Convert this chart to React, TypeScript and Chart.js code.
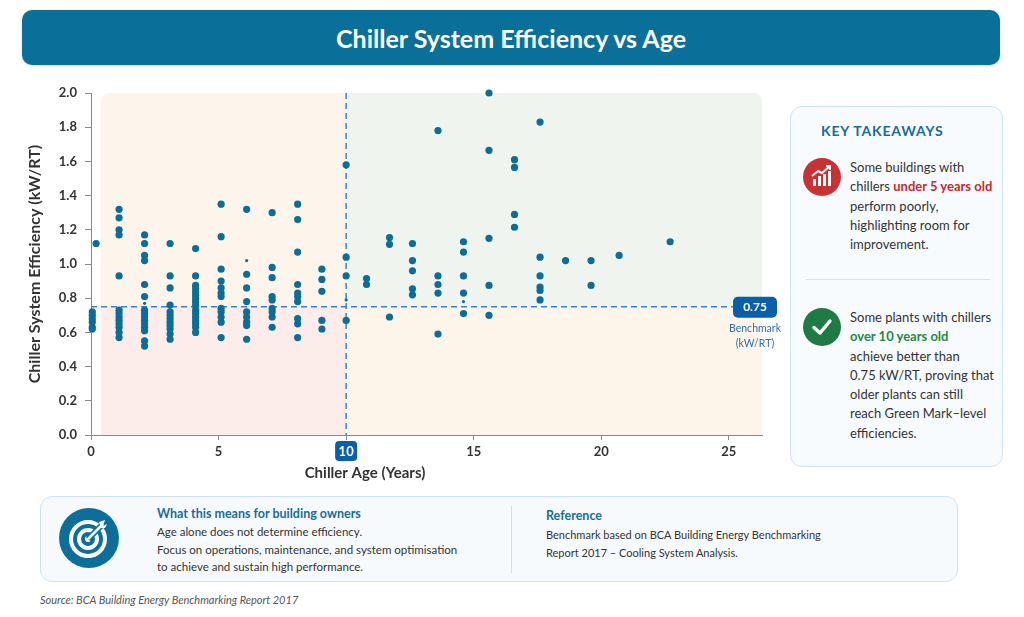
import { useEffect, useRef } from 'react';
import { Chart, registerables, Plugin } from 'chart.js';

Chart.register(...registerables);

const FONT = 'Lato, "Open Sans", "DejaVu Sans", sans-serif';

// chiller age (years) of each column of plants, and kW/RT of the plants in it
const ageGroups = [0.05, 0.2, 1.1, 2.1, 3.1, 4.1, 5.1, 6.1, 7.1, 8.1, 9.05, 10.0, 10.8, 11.7, 12.6, 13.6, 14.6, 15.6, 16.6, 17.6, 18.6, 19.6, 20.7, 22.7];
const efficiencyByAge = [
  [0.72, 0.7, 0.68, 0.66, 0.63, 0.62],
  [1.12],
  [1.32, 1.27, 1.2, 1.17, 0.93, 0.73, 0.71, 0.69, 0.67, 0.65, 0.63, 0.6, 0.57],
  [1.17, 1.12, 1.05, 1.02, 0.88, 0.81, 0.73, 0.71, 0.69, 0.67, 0.65, 0.63, 0.61, 0.55, 0.52],
  [1.12, 0.93, 0.86, 0.76, 0.72, 0.7, 0.68, 0.66, 0.64, 0.62, 0.59, 0.56],
  [1.09, 0.93, 0.875, 0.856, 0.836, 0.817, 0.797, 0.778, 0.758, 0.73, 0.71, 0.69, 0.67, 0.65, 0.63, 0.6],
  [1.35, 1.16, 0.97, 0.9, 0.86, 0.83, 0.81, 0.74, 0.72, 0.69, 0.66, 0.57],
  [1.32, 0.94, 0.86, 0.78, 0.72, 0.69, 0.66, 0.64, 0.56],
  [1.3, 0.98, 0.92, 0.81, 0.79, 0.74, 0.72, 0.69, 0.63],
  [1.35, 1.26, 1.07, 0.88, 0.83, 0.81, 0.78, 0.68, 0.65, 0.57],
  [0.97, 0.91, 0.84, 0.67, 0.62],
  [1.58, 1.04, 0.93, 0.67],
  [0.915, 0.88],
  [1.155, 1.115, 0.69],
  [1.12, 1.02, 0.96, 0.855, 0.82],
  [1.78, 0.93, 0.88, 0.83, 0.59],
  [1.13, 1.07, 0.93, 0.83, 0.71],
  [2.0, 1.665, 1.15, 0.875, 0.7],
  [1.61, 1.565, 1.29, 1.215],
  [1.83, 1.04, 0.93, 0.865, 0.845, 0.79],
  [1.02],
  [1.02, 0.875],
  [1.05],
  [1.13],
];
// the few tiny dots
const minorAges = [2.1, 6.1, 10.0, 14.6];
const minorEfficiency = [0.77, 1.02, 0.79, 0.78];

const xTicks = [0, 5, 10, 15, 20, 25];
const benchmark = 0.75;
const ageSplit = 10;

const decor: Plugin<'scatter'> = {
  id: 'decor',
  beforeDraw(chart) {
    const { ctx, chartArea: a, scales } = chart;
    const xm = scales.x.getPixelForValue(ageSplit);
    const ym = scales.y.getPixelForValue(benchmark);
    const left = a.left + 10;
    ctx.save();
    ctx.beginPath();
    ctx.roundRect(left, a.top, a.right - left, a.bottom - a.top, [8, 8, 0, 0]);
    ctx.clip();
    ctx.fillStyle = '#fdf4ec';
    ctx.fillRect(left, a.top, xm - left, ym - a.top);
    ctx.fillStyle = '#fcedea';
    ctx.fillRect(left, ym, xm - left, a.bottom - ym);
    ctx.fillStyle = '#eff4ee';
    ctx.fillRect(xm, a.top, a.right - xm, ym - a.top);
    ctx.fillStyle = '#fdf5e9';
    ctx.fillRect(xm, ym, a.right - xm, a.bottom - ym);
    ctx.restore();

    // box behind the "10" tick
    ctx.save();
    ctx.fillStyle = '#0b5ea8';
    ctx.beginPath();
    ctx.roundRect(xm - 11, a.bottom + 6, 22, 20, 4);
    ctx.fill();
    ctx.restore();
  },
  beforeDatasetsDraw(chart) {
    const { ctx, chartArea: a, scales } = chart;
    const xm = scales.x.getPixelForValue(ageSplit);
    const ym = scales.y.getPixelForValue(benchmark);
    ctx.save();
    ctx.strokeStyle = '#3b7fd0';
    ctx.lineWidth = 1.5;
    ctx.setLineDash([6, 4]);
    ctx.beginPath();
    ctx.moveTo(xm, a.top);
    ctx.lineTo(xm, a.bottom);
    ctx.moveTo(a.left, ym);
    ctx.lineTo(a.right - 29, ym);
    ctx.stroke();
    ctx.restore();
  },
  afterDraw(chart) {
    const { ctx, chartArea: a, scales } = chart;
    const ym = scales.y.getPixelForValue(benchmark);
    const bx = a.right - 29;
    ctx.save();
    ctx.fillStyle = '#0b5ea8';
    ctx.beginPath();
    ctx.roundRect(bx, ym - 10, 44, 21, 5);
    ctx.fill();
    ctx.fillStyle = '#ffffff';
    ctx.font = `bold 12px ${FONT}`;
    ctx.textAlign = 'center';
    ctx.textBaseline = 'middle';
    ctx.fillText(benchmark.toFixed(2), bx + 22, ym + 0.5);
    ctx.fillStyle = '#2f6db5';
    ctx.font = `10.5px ${FONT}`;
    ctx.fillText('Benchmark', bx + 22, ym + 22);
    ctx.fillText('(kW/RT)', bx + 22, ym + 37);

    // x axis title, sits left of centre in the original
    ctx.fillStyle = '#333333';
    ctx.font = `bold 15px ${FONT}`;
    ctx.fillText('Chiller Age (Years)', 365, a.bottom + 38);
    ctx.restore();
  },
};

function EfficiencyChart() {
  const chartRef = useRef<HTMLCanvasElement>(null);
  const chartInstance = useRef<Chart | null>(null);

  useEffect(() => {
    if (!chartRef.current) return;
    if (chartInstance.current) chartInstance.current.destroy();
    const ctx = chartRef.current.getContext('2d');
    if (!ctx) return;

    const points = ageGroups.flatMap((age, i) => efficiencyByAge[i].map(v => ({ x: age, y: v })));
    const minorPoints = minorAges.map((age, i) => ({ x: age, y: minorEfficiency[i] }));

    chartInstance.current = new Chart(ctx, {
      type: 'scatter',
      data: {
        datasets: [
          {
            label: 'Plants',
            data: points,
            backgroundColor: '#0b6d98',
            borderWidth: 0,
            pointRadius: 3.6,
            clip: false,
          },
          {
            label: 'Minor',
            data: minorPoints,
            backgroundColor: '#0b6d98',
            borderWidth: 0,
            pointRadius: 1.6,
            clip: false,
          },
        ],
      },
      options: {
        animation: false,
        responsive: true,
        maintainAspectRatio: false,
        layout: { padding: { left: 0, top: 23, right: 28, bottom: 0 } },
        scales: {
          x: {
            type: 'linear',
            min: 0,
            max: 26.3,
            afterBuildTicks: s => {
              s.ticks = xTicks.map(v => ({ value: v }));
            },
            afterFit: s => {
              s.height = 55;
            },
            grid: { drawOnChartArea: false, drawTicks: true, tickLength: 5, color: '#8a8a8a' },
            border: { color: '#8a8a8a', width: 1 },
            ticks: {
              color: c => (c.tick && c.tick.value === ageSplit ? '#ffffff' : '#333333'),
              font: { family: FONT, size: 13, weight: 'bold' },
              padding: 4,
              maxRotation: 0,
            },
          },
          y: {
            min: 0,
            max: 2,
            afterFit: s => {
              s.width = 91;
            },
            grid: { drawOnChartArea: false, drawTicks: true, tickLength: 6, color: '#8a8a8a' },
            border: { color: '#8a8a8a', width: 1 },
            ticks: {
              stepSize: 0.2,
              color: '#333333',
              font: { family: FONT, size: 13, weight: 'bold' },
              padding: 8,
              callback: v => Number(v).toFixed(1),
            },
            title: {
              display: true,
              text: 'Chiller System Efficiency (kW/RT)',
              color: '#333333',
              font: { family: FONT, size: 16, weight: 'bold' },
              padding: { top: 25, bottom: 0 },
            },
          },
        },
        plugins: {
          legend: { display: false },
          tooltip: { enabled: false },
        },
      },
      plugins: [decor],
    });

    return () => {
      if (chartInstance.current) {
        chartInstance.current.destroy();
        chartInstance.current = null;
      }
    };
  }, []);

  return (
    <div style={{ position: 'absolute', left: 0, top: 70, width: 790, height: 420 }}>
      <canvas ref={chartRef}></canvas>
    </div>
  );
}

function TrendIcon() {
  return (
    <svg width="38" height="38" viewBox="0 0 38 38">
      <circle cx="19" cy="19" r="19" fill="#c93232" />
      <rect x="10" y="21" width="3" height="7" fill="#fff" />
      <rect x="15" y="18" width="3" height="10" fill="#fff" />
      <rect x="20" y="16" width="3" height="12" fill="#fff" />
      <rect x="25" y="13" width="3" height="15" fill="#fff" />
      <polyline points="9,18 15,13 19,15 27,8" fill="none" stroke="#fff" strokeWidth="2" />
      <polyline points="23,8 27,8 27,12" fill="none" stroke="#fff" strokeWidth="2" />
    </svg>
  );
}

function CheckIcon() {
  return (
    <svg width="38" height="38" viewBox="0 0 38 38">
      <circle cx="19" cy="19" r="19" fill="#1f7a45" />
      <polyline points="11,19.5 17,25 27,13" fill="none" stroke="#fff" strokeWidth="3.5" strokeLinecap="round" strokeLinejoin="round" />
    </svg>
  );
}

function TargetIcon() {
  return (
    <svg width="60" height="60" viewBox="0 0 60 60">
      <circle cx="30" cy="30" r="30" fill="#0c6e99" />
      <circle cx="29" cy="31" r="17" fill="none" stroke="#fff" strokeWidth="4" />
      <circle cx="29" cy="31" r="9" fill="none" stroke="#fff" strokeWidth="4" />
      <circle cx="29" cy="31" r="3" fill="#fff" />
      <line x1="29" y1="31" x2="44" y2="16" stroke="#0c6e99" strokeWidth="6" />
      <line x1="29" y1="31" x2="44" y2="16" stroke="#fff" strokeWidth="2.5" />
      <polygon points="40,14 46,12 44,18 48,16 46,20 42,20" fill="#fff" />
    </svg>
  );
}

const body: React.CSSProperties = { color: '#333', fontSize: 13, lineHeight: '19.3px', whiteSpace: 'nowrap' };
const small: React.CSSProperties = { color: '#333', fontSize: 11.5, lineHeight: '17.5px', whiteSpace: 'nowrap' };

export default function App() {
  return (
    <div style={{ position: 'absolute', left: 0, top: 0, width: 1024, height: 617, background: '#fff', fontFamily: FONT, overflow: 'hidden' }}>
      <div
        style={{
          position: 'absolute', left: 22, top: 10, width: 978, height: 55, borderRadius: 10,
          background: '#0a6f99', color: '#fff', fontSize: 25, fontWeight: 700,
          display: 'flex', alignItems: 'center', justifyContent: 'center',
          boxShadow: '0 1px 3px rgba(0,0,0,0.15)',
        }}
      >
        Chiller System Efficiency vs Age
      </div>

      <EfficiencyChart />

      <div
        style={{
          position: 'absolute', left: 790, top: 106, width: 213, height: 361, boxSizing: 'border-box',
          border: '1px solid #cfe2f0', borderRadius: 12, background: '#f8fbfe',
        }}
      >
        <div style={{ position: 'absolute', left: 30, top: 15, color: '#1a6c96', fontSize: 14, fontWeight: 700, letterSpacing: 0.8 }}>
          KEY TAKEAWAYS
        </div>
        <div style={{ position: 'absolute', left: 12, top: 51 }}>
          <TrendIcon />
        </div>
        <div style={{ ...body, position: 'absolute', left: 59, top: 51 }}>
          Some buildings with
          <br />
          chillers <b style={{ color: '#c92a2a' }}>under 5 years old</b>
          <br />
          perform poorly,
          <br />
          highlighting room for
          <br />
          improvement.
        </div>
        <div style={{ position: 'absolute', left: 14, top: 172, width: 185, height: 1, background: '#d3e3ee' }} />
        <div style={{ position: 'absolute', left: 12, top: 201 }}>
          <CheckIcon />
        </div>
        <div style={{ ...body, position: 'absolute', left: 59, top: 201 }}>
          Some plants with chillers
          <br />
          <b style={{ color: '#1e8a45' }}>over 10 years old</b>
          <br />
          achieve better than
          <br />
          0.75 kW/RT, proving that
          <br />
          older plants can still
          <br />
          reach Green Mark–level
          <br />
          efficiencies.
        </div>
      </div>

      <div
        style={{
          position: 'absolute', left: 40, top: 496, width: 918, height: 86, boxSizing: 'border-box',
          border: '1px solid #cfe2f0', borderRadius: 12, background: '#f7fafd',
        }}
      >
        <div style={{ position: 'absolute', left: 18, top: 11 }}>
          <TargetIcon />
        </div>
        <div style={{ position: 'absolute', left: 116, top: 9, color: '#1a6c96', fontSize: 12.5, fontWeight: 700 }}>
          What this means for building owners
        </div>
        <div style={{ ...small, position: 'absolute', left: 116, top: 26 }}>
          Age alone does not determine efficiency.
          <br />
          Focus on operations, maintenance, and system optimisation
          <br />
          to achieve and sustain high performance.
        </div>
        <div style={{ position: 'absolute', left: 470, top: 9, width: 1, height: 67, background: '#d5dde5' }} />
        <div style={{ position: 'absolute', left: 505, top: 11, color: '#1a6c96', fontSize: 12.5, fontWeight: 700 }}>
          Reference
        </div>
        <div style={{ ...small, position: 'absolute', left: 505, top: 29, fontSize: 11 }}>
          Benchmark based on BCA Building Energy Benchmarking
          <br />
          Report 2017 – Cooling System Analysis.
        </div>
      </div>

      <div style={{ position: 'absolute', left: 40, top: 593, color: '#555', fontSize: 11, fontStyle: 'italic' }}>
        Source: BCA Building Energy Benchmarking Report 2017
      </div>
    </div>
  );
}
